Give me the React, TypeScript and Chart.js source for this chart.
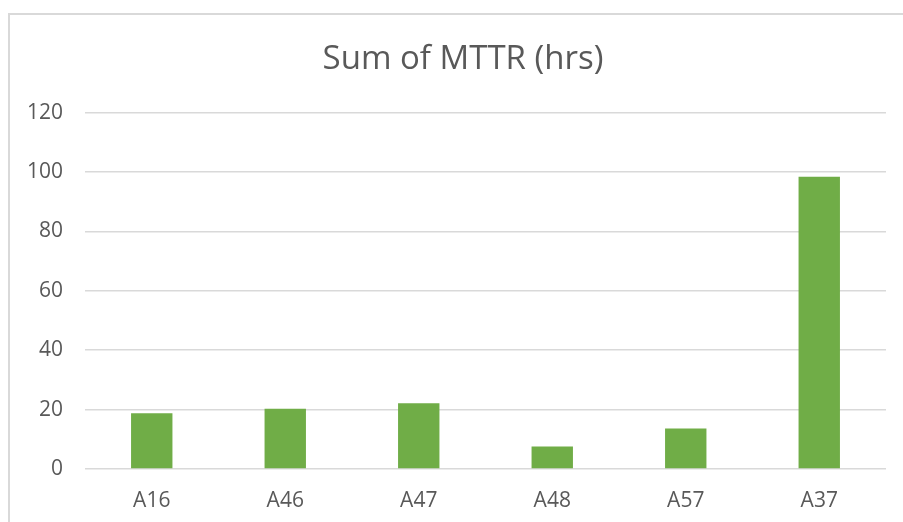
import React, { useEffect, useRef } from "react";
import { Chart, registerables } from "chart.js";

Chart.register(...registerables);

const categories = ["A16", "A46", "A47", "A48", "A57", "A37"];
const mttrValues = [18.8, 20.3, 22.1, 7.6, 13.6, 98.4];
const yTicks = [0, 20, 40, 60, 80, 100, 120];
const titleText = "Sum of MTTR (hrs)";

const FONT = '"Open Sans", "Liberation Sans", sans-serif';
const TEXT_COLOR = "#595959";

export default function App() {
  const canvasRef = useRef<HTMLCanvasElement | null>(null);

  useEffect(() => {
    let chart: Chart | null = null;
    let cancelled = false;
    const make = () => {
      if (cancelled || !canvasRef.current) return;
      chart = new Chart(canvasRef.current, {
        type: "bar",
        data: {
          labels: categories,
          datasets: [
            {
              label: titleText,
              data: mttrValues,
              backgroundColor: "#70AD47",
              borderWidth: 0,
              barPercentage: 0.31,
              categoryPercentage: 1,
              yAxisID: "y",
            },
          ],
        },
        options: {
          responsive: false,
          animation: false,
          layout: { padding: { left: 0, right: 0, top: 0, bottom: 0 } },
          plugins: {
            legend: { display: false },
            tooltip: { enabled: false },
            title: {
              display: true,
              text: titleText,
              color: TEXT_COLOR,
              font: { family: FONT, size: 33, weight: "normal" },
              padding: { top: 25, bottom: 33 },
            },
          },
          scales: {
            x: {
              grid: { display: false, drawTicks: false },
              border: { display: false },
              ticks: {
                color: TEXT_COLOR,
                font: { family: FONT, size: 21 },
                padding: 19,
              },
              afterFit: (scale: any) => {
                scale.height = 66;
              },
            },
            y: {
              position: "left",
              min: 0,
              max: 120,
              afterBuildTicks: (scale: any) => {
                scale.ticks = yTicks.map((v) => ({ value: v }));
              },
              grid: { color: "#d9d9d9", lineWidth: 1.5, drawTicks: false },
              border: { display: false },
              ticks: {
                color: TEXT_COLOR,
                font: { family: FONT, size: 21 },
                padding: 22,
              },
              afterFit: (scale: any) => {
                scale.width = 75;
              },
            },
            yRight: {
              type: "linear",
              position: "right",
              display: true,
              min: 0,
              max: 120,
              grid: { display: false, drawTicks: false },
              border: { display: false },
              ticks: { display: false },
              afterFit: (scale: any) => {
                scale.width = 30;
              },
            },
          },
        },
      });
    };
    const fontsApi = (document as any).fonts;
    if (fontsApi && fontsApi.load) {
      Promise.all([
        fontsApi.load('21px "Open Sans"'),
        fontsApi.load('33px "Open Sans"'),
      ])
        .catch(() => undefined)
        .then(make);
    } else {
      make();
    }
    return () => {
      cancelled = true;
      if (chart) chart.destroy();
    };
  }, []);

  return (
    <div
      style={{
        position: "absolute",
        left: 8,
        top: 13,
        width: 895,
        height: 509,
        overflow: "hidden",
        borderTop: "2px solid #d9d9d9",
        borderLeft: "2px solid #d9d9d9",
        boxSizing: "border-box",
        background: "#ffffff",
      }}
    >
      <canvas
        ref={canvasRef}
        width={906}
        height={520}
        style={{ display: "block", width: 906, height: 520 }}
      />
    </div>
  );
}
